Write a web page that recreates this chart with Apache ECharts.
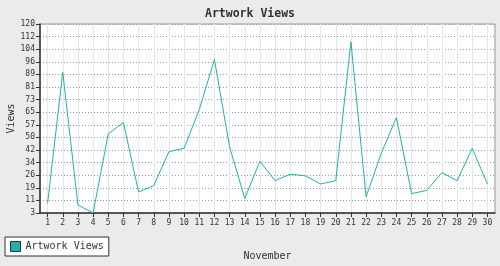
<!DOCTYPE html>
<html><head><meta charset="utf-8">
<script src="https://cdn.jsdelivr.net/npm/echarts@6/dist/echarts.min.js"></script>
<style>html,body{margin:0;padding:0;background:#ebebeb;}#c{width:500px;height:266px;}</style>
</head><body><div id="c"></div>
<script>
var days = [1,2,3,4,5,6,7,8,9,10,11,12,13,14,15,16,17,18,19,20,21,22,23,24,25,26,27,28,29,30];
var views = [9,90,8,3,52,59,16,20,41,43,67,98,44,12,35,23,27,26,21,23,109,13,40,62,15,17,28,23,43,21];
var yTickLabels = ['3','11','19','26','34','42','50','57','65','73','81','89','96','104','112','120'];
var yMin = 3, yMax = 120;
var yTicks = yTickLabels.map(function(s,i){ return yMin + i*(yMax-yMin)/(yTickLabels.length-1); });
var mono = 'DejaVu Sans Mono';
var chart = echarts.init(document.getElementById('c'));
chart.setOption({
  animation:false,
  backgroundColor:'#ebebeb',
  title:{text:'Artwork Views',left:'center',top:3,textStyle:{fontFamily:mono,fontWeight:'bold',fontSize:11.5,color:'#333'}},
  legend:{left:5,top:237,orient:'horizontal',padding:[4,5],borderColor:'#333',borderWidth:1,backgroundColor:'#fff',itemWidth:10,itemHeight:10,itemGap:5,
    textStyle:{fontFamily:mono,fontSize:10,color:'#333'},
    data:[{name:'Artwork Views',icon:'rect',itemStyle:{color:'#20b2aa',borderColor:'#333',borderWidth:1}}]},
  grid:{left:40,right:5,top:24,bottom:53,outerBoundsMode:'none',containLabel:false,show:true,backgroundColor:'#fff',borderColor:'#999',borderWidth:1},
  xAxis:{type:'value',min:0.5,max:30.5,name:'November',nameLocation:'middle',nameGap:38,nameMoveOverlap:false,
    nameTextStyle:{fontFamily:mono,fontSize:10,color:'#333'},
    axisLine:{show:true,onZero:false,lineStyle:{color:'#333',width:1.5}},
    axisTick:{show:true,length:4,customValues:days,lineStyle:{color:'#333'}},
    axisLabel:{customValues:days,fontFamily:mono,fontSize:8,color:'#333',margin:6},
    splitLine:{show:true,lineStyle:{color:'#e6e6e6',width:1}}},
  yAxis:{type:'value',min:yMin,max:yMax,name:'Views',nameLocation:'middle',nameGap:24,nameMoveOverlap:false,
    nameTextStyle:{fontFamily:mono,fontSize:10,color:'#333'},
    axisLine:{show:true,onZero:false,lineStyle:{color:'#333',width:1.5}},
    axisTick:{show:true,length:4,customValues:yTicks,lineStyle:{color:'#333'}},
    axisLabel:{customValues:yTicks,fontFamily:mono,fontSize:8,color:'#333',margin:5,
      formatter:function(v){ var i=Math.round((v-yMin)/((yMax-yMin)/(yTickLabels.length-1))); return yTickLabels[i]; }},
    splitLine:{show:true,lineStyle:{color:'#999',type:[1,2],width:1}}},
  series:[{name:'Artwork Views',type:'line',data:days.map(function(d,i){return [d,views[i]];}),
    showSymbol:false,symbol:'none',lineStyle:{color:'#20b2aa',width:1},itemStyle:{color:'#20b2aa'}}]
});
</script></body></html>
